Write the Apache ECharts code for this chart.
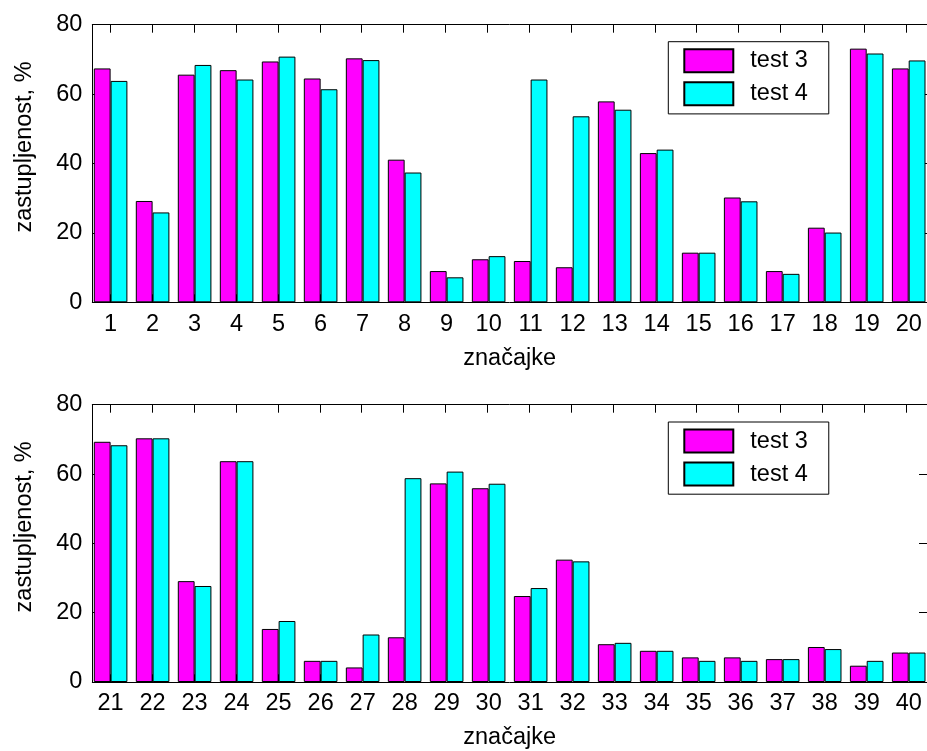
<!DOCTYPE html>
<html>
<head>
<meta charset="utf-8">
<script src="https://cdn.jsdelivr.net/npm/echarts@6/dist/echarts.min.js"></script>
<style>html,body{margin:0;padding:0;background:#fff;}#c{width:927px;height:751px;}</style>
</head>
<body>
<div id="c"></div>
<script>
var cats1 = [1,2,3,4,5,6,7,8,9,10,11,12,13,14,15,16,17,18,19,20];
var cats2 = [21,22,23,24,25,26,27,28,29,30,31,32,33,34,35,36,37,38,39,40];
var test3a = [67.4, 29.2, 65.6, 66.9, 69.4, 64.5, 70.3, 41.1, 9.0, 12.4, 11.9, 10.1, 57.9, 43.0, 14.3, 30.2, 9.0, 21.5, 73.1, 67.4];
var test4a = [63.8, 25.9, 68.4, 64.2, 70.8, 61.4, 69.8, 37.4, 7.2, 13.3, 64.2, 53.6, 55.5, 44.0, 14.3, 29.1, 8.2, 20.1, 71.7, 69.7];
var test3b = [69.3, 70.3, 29.1, 63.7, 15.3, 6.1, 4.2, 12.9, 57.3, 55.9, 24.8, 35.3, 10.9, 9.0, 7.1, 7.1, 6.6, 10.1, 4.7, 8.5];
var test4b = [68.3, 70.3, 27.7, 63.7, 17.6, 6.1, 13.7, 58.8, 60.7, 57.2, 27.1, 34.8, 11.3, 9.0, 6.1, 6.1, 6.6, 9.5, 6.1, 8.5];
var yTicks = [0, 20, 40, 60, 80];
var seriesNames = ['test 3', 'test 4'];
var xTitle = 'značajke';
var yTitle = 'zastupljenost, %';

var FONT = 'Liberation Sans, Arial, Helvetica, sans-serif';
var FS = 23.5;
var chart = echarts.init(document.getElementById('c'), null, {renderer: 'canvas'});

function pairs(cats, vals) { return cats.map(function (c, i) { return [c, vals[i]]; }); }

var UNIT = 42.24;          // px per category
var off = 0.4356;          // x-limit offset from first/last category
var plotW = (19 + 2 * off) * UNIT;
var tops = [24.7, 404.7];
var H = 277.6;
var L = 92.3;

var grids = [
  {left: L, top: tops[0], width: plotW, height: H},
  {left: L, top: tops[1], width: plotW, height: H},
  // tick-only grids spanning full category bands
  {left: L - (0.5 - off) * UNIT, top: tops[0], width: 20 * UNIT, height: H},
  {left: L - (0.5 - off) * UNIT, top: tops[1], width: 20 * UNIT, height: H}
];
var catSets = [cats1, cats2];

var xAxes = [], yAxes = [], series = [], legends = [];
function ls() { return {color: '#000', width: 1}; }
catSets.forEach(function (cats, g) {
  var mn = cats[0] - off, mx = cats[cats.length - 1] + off;
  xAxes.push({
    type: 'value', gridIndex: g, position: 'bottom', min: mn, max: mx,
    splitLine: {show: false},
    axisLine: {show: true, onZero: false, lineStyle: ls()},
    axisTick: {show: false},
    axisLabel: {show: true, customValues: cats, margin: 10, color: '#000', fontSize: FS, fontFamily: FONT,
      formatter: function (v) { return String(Math.round(v)); }},
    name: xTitle, nameLocation: 'middle', nameGap: 44,
    nameTextStyle: {color: '#000', fontSize: FS, fontFamily: FONT}
  });
  xAxes.push({
    type: 'value', gridIndex: g, position: 'top', min: mn, max: mx,
    splitLine: {show: false},
    axisLine: {show: true, onZero: false, lineStyle: ls()},
    axisTick: {show: false},
    axisLabel: {show: false}
  });
  yAxes.push({
    type: 'value', gridIndex: g, position: 'left', min: yTicks[0], max: yTicks[yTicks.length - 1], interval: 20,
    splitLine: {show: false},
    axisLine: {show: true, onZero: false, lineStyle: ls()},
    axisTick: {show: true, inside: true, length: 8, lineStyle: ls()},
    axisLabel: {margin: 10, color: '#000', fontSize: FS, fontFamily: FONT},
    name: yTitle, nameLocation: 'middle', nameGap: 56, nameRotate: 90,
    nameTextStyle: {color: '#000', fontSize: FS, fontFamily: FONT, padding: [0, 0, 0, 33]}
  });
  yAxes.push({
    type: 'value', gridIndex: g, position: 'right', min: yTicks[0], max: yTicks[yTicks.length - 1], interval: 20,
    splitLine: {show: false},
    axisLine: {show: true, onZero: false, lineStyle: ls()},
    axisTick: {show: true, inside: true, length: 8, lineStyle: ls()},
    axisLabel: {show: false}
  });
  var v3 = g === 0 ? test3a : test3b;
  var v4 = g === 0 ? test4a : test4b;
  series.push({
    type: 'bar', name: seriesNames[0], xAxisIndex: g * 2, yAxisIndex: g * 2,
    data: pairs(cats, v3), barWidth: 16.8, barGap: '0%',
    itemStyle: {color: '#ff00ff', borderColor: '#000', borderWidth: 1},
    emphasis: {disabled: true}, animation: false
  });
  series.push({
    type: 'bar', name: seriesNames[1], xAxisIndex: g * 2, yAxisIndex: g * 2,
    data: pairs(cats, v4), barWidth: 16.8, barGap: '0%',
    itemStyle: {color: '#00ffff', borderColor: '#000', borderWidth: 1},
    emphasis: {disabled: true}, animation: false
  });
  legends.push({
    data: seriesNames, orient: 'vertical', left: 668.3, top: g === 0 ? 41.7 : 422,
    padding: [6.6, 21, 7.6, 15], itemWidth: 49, itemHeight: 23, itemGap: 8,
    borderColor: '#000', borderWidth: 1, backgroundColor: '#fff', icon: 'rect',
    selectedMode: false,
    textStyle: {color: '#000', fontSize: FS, fontFamily: FONT, padding: [0, 0, 0, 12]}
  });
});

// tick-only category axes (x ticks at each category, pointing inward)
catSets.forEach(function (cats, g) {
  ['bottom', 'top'].forEach(function (pos) {
    xAxes.push({
      type: 'category', gridIndex: 2 + g, position: pos, data: cats.map(String), boundaryGap: true,
      axisLine: {show: false, onZero: false},
      axisTick: {show: true, inside: true, length: 8, alignWithLabel: true, interval: 0, lineStyle: ls()},
      axisLabel: {show: false},
      splitLine: {show: false}
    });
  });
  yAxes.push({
    type: 'value', gridIndex: 2 + g, min: 0, max: 80, show: false,
    axisLine: {onZero: false}
  });
});

chart.setOption({
  animation: false,
  backgroundColor: '#fff',
  grid: grids,
  xAxis: xAxes,
  yAxis: yAxes,
  legend: legends,
  series: series
});
</script>
</body>
</html>
